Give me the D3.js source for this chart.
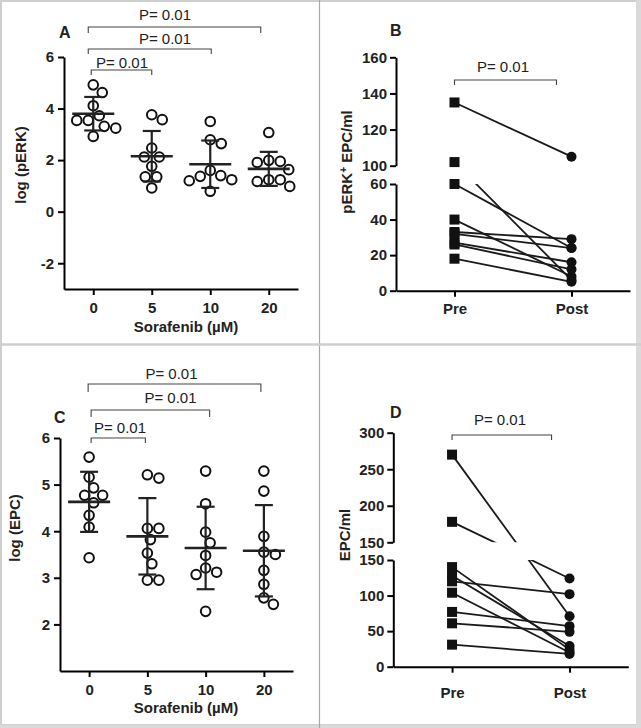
<!DOCTYPE html>
<html><head><meta charset="utf-8">
<script src="https://cdn.jsdelivr.net/npm/d3@7"></script>
<style>body{margin:0;background:#fff}</style>
</head><body>
<script>
// ---------- DATA ----------
const doses = ["0", "5", "10", "20"];
// Panel A: log(pERK)
const pERK_0  = [4.92, 4.62, 4.11, 3.72, 3.54, 3.54, 3.31, 3.24, 2.92];
const pERK_5  = [3.76, 3.57, 2.47, 2.12, 2.12, 1.76, 1.35, 1.35, 0.92];
const pERK_10 = [3.50, 2.79, 2.64, 1.60, 1.40, 1.37, 1.24, 1.20, 0.79];
const pERK_20 = [3.07, 1.99, 1.95, 1.91, 1.63, 1.24, 1.24, 1.17, 0.98];
const pERKMean = [3.80, 2.15, 1.84, 1.66];
const pERKSD   = [0.65, 0.98, 0.92, 0.66];
const pERKTicks = [-2, 0, 2, 4, 6];
// Panel C: log(EPC)
const epc_0  = [5.59, 5.16, 4.93, 4.77, 4.77, 4.61, 4.34, 4.09, 3.43];
const epc_5  = [5.21, 5.14, 4.06, 4.06, 3.82, 3.53, 3.30, 2.95, 2.95];
const epc_10 = [5.29, 4.59, 3.98, 3.75, 3.48, 3.21, 3.12, 3.07, 2.28];
const epc_20 = [5.29, 4.86, 3.89, 3.55, 3.50, 3.16, 2.86, 2.57, 2.43];
const epcMean = [4.63, 3.89, 3.64, 3.58];
const epcSD   = [0.645, 0.82, 0.885, 0.98];
const epcTicks = [2, 3, 4, 5, 6];
// Panel B: pERK+ EPC/ml, paired
const times = ["Pre", "Post"];
const bPre  = [135, 102, 60, 40, 33, 32, 27, 26, 18];
const bPost = [105, 6, 24, 8, 29, 24, 16, 12, 5];
const bLowerTicks = [0, 20, 40, 60];
const bUpperTicks = [100, 120, 140, 160];
// Panel D: EPC/ml, paired
const dPre  = [270, 178, 140, 128, 120, 104, 77, 61, 31];
const dPost = [71, 124, 24, 29, 102, 20, 57, 49, 18];
const dLowerTicks = [0, 50, 100, 150];
const dUpperTicks = [150, 200, 250, 300];
const pText = "P= 0.01";

// ---------- SETUP ----------
const FONT = '"Liberation Sans", Arial, Helvetica, sans-serif';
const TXT = "#222";
const svg = d3.select("body").append("svg").attr("width", 641).attr("height", 728)
  .style("font-family", FONT);

// panel frame
svg.append("rect").attr("x", 1).attr("y", 1).attr("width", 636).attr("height", 724)
  .attr("fill", "none").attr("stroke", "#cfcfcf").attr("stroke-width", 2);
svg.append("rect").attr("x", 636).attr("y", 0).attr("width", 5).attr("height", 728).attr("fill", "#dadada");
svg.append("rect").attr("x", 0).attr("y", 725).attr("width", 641).attr("height", 3).attr("fill", "#dadada");
svg.append("line").attr("x1", 319.5).attr("x2", 319.5).attr("y1", 0).attr("y2", 728)
  .attr("stroke", "#a8a8a8").attr("stroke-width", 1.2);
svg.append("line").attr("x1", 0).attr("x2", 641).attr("y1", 344.5).attr("y2", 344.5)
  .attr("stroke", "#cfcfcf").attr("stroke-width", 2.5);

function styleAxis(sel, fs) {
  sel.select(".domain").attr("stroke", "#000").attr("stroke-width", 2);
  sel.selectAll(".tick line").attr("stroke", "#000").attr("stroke-width", 2);
  sel.selectAll(".tick text").attr("fill", TXT).attr("font-size", fs)
    .attr("font-weight", "bold").attr("font-family", FONT);
}

function addText(x, y, s, opts = {}) {
  const t = svg.append("text").attr("x", x).attr("y", y).text(s)
    .attr("fill", TXT).attr("font-size", opts.fs || 15)
    .attr("font-weight", opts.weight || "bold")
    .attr("text-anchor", opts.anchor || "middle");
  if (opts.rotate) t.attr("transform", `rotate(-90,${x},${y})`);
  return t;
}

function bracket(x1, x2, y, drop, tx, ty) {
  svg.append("path").attr("d", `M${x1},${y + drop}V${y}H${x2}V${y + drop}`)
    .attr("fill", "none").attr("stroke", "#444").attr("stroke-width", 1.1);
  addText(tx, ty, pText, {weight: "normal", fs: 15});
}

// beeswarm offsets computed from values
function swarm(values, y, D) {
  const placed = [];
  return values.map(v => {
    const yy = y(v);
    let dx = 0;
    outer: for (let k = 0; k < 400; k++) {
      const c = k === 0 ? [0] : [k * 0.5, -k * 0.5];
      for (const d of c) {
        if (placed.every(p => (p.dx - d) ** 2 + (p.y - yy) ** 2 >= D * D)) { dx = d; break outer; }
      }
    }
    placed.push({dx, y: yy});
    return dx;
  });
}

// ---------- DOT PLOT PANELS ----------
function dotPanel(cfg) {
  const x = d3.scalePoint().domain(doses).range([cfg.x0, cfg.x1]).padding(0.5);
  const y = d3.scaleLinear().domain(cfg.yDomain).range(cfg.yRange);
  const g = svg.append("g");
  const gx = g.append("g").attr("transform", `translate(0,${cfg.yRange[0]})`)
    .call(d3.axisBottom(x).tickSize(6).tickSizeOuter(0).tickPadding(cfg.xPad));
  styleAxis(gx, 15);
  const gy = g.append("g").attr("transform", `translate(${cfg.x0},0)`)
    .call(d3.axisLeft(y).tickValues(cfg.ticks).tickFormat(d => String(d)).tickSize(6).tickSizeOuter(0).tickPadding(4));
  styleAxis(gy, 15);

  cfg.groups.forEach((vals, i) => {
    const cx = x(doses[i]);
    const offs = swarm(vals, y, 11.5);
    g.append("g").selectAll("circle").data(vals).join("circle")
      .attr("cx", (d, j) => cx + offs[j]).attr("cy", d => y(d)).attr("r", 4.8)
      .attr("fill", "#fff").attr("stroke", "#111").attr("stroke-width", 2);
    const m = cfg.means[i], s = cfg.sds[i];
    g.append("line").attr("x1", cx).attr("x2", cx).attr("y1", y(m + s)).attr("y2", y(m - s))
      .attr("stroke", "#222").attr("stroke-width", 2.2);
    [m + s, m - s].forEach(v => g.append("line").attr("x1", cx - 9).attr("x2", cx + 9)
      .attr("y1", y(v)).attr("y2", y(v)).attr("stroke", "#222").attr("stroke-width", 2.2));
    g.append("line").attr("x1", cx - 21).attr("x2", cx + 21).attr("y1", y(m)).attr("y2", y(m))
      .attr("stroke", "#222").attr("stroke-width", 2.6);
  });

  cfg.brackets.forEach(b => bracket(x(b.a) + b.da, x(b.b) + b.db, b.y, b.drop, b.tx, b.ty));
  addText(cfg.label[1], cfg.label[2], cfg.label[0], {fs: 16, anchor: "start"});
  addText(cfg.ytitle[1], cfg.ytitle[2], cfg.ytitle[0], {rotate: true});
  addText(cfg.xtitle[1], cfg.xtitle[2], cfg.xtitle[0]);
}

dotPanel({
  x0: 64, x1: 298, yDomain: [-3, 6], yRange: [289, 57], ticks: pERKTicks, xPad: 7,
  groups: [pERK_0, pERK_5, pERK_10, pERK_20], means: pERKMean, sds: pERKSD,
  brackets: [
    {a: "0", b: "20", da: -5, db: -8, y: 27, drop: 6, tx: 165, ty: 20},
    {a: "0", b: "10", da: -5, db: 1, y: 49, drop: 5, tx: 165, ty: 44},
    {a: "0", b: "5", da: -2, db: 0, y: 70, drop: 5, tx: 122, ty: 67.5}
  ],
  label: ["A", 59, 38], ytitle: ["log (pERK)", 26, 165], xtitle: ["Sorafenib (µM)", 186, 332]
});

dotPanel({
  x0: 60, x1: 293, yDomain: [1, 6], yRange: [671, 438], ticks: epcTicks, xPad: 7.5,
  groups: [epc_0, epc_5, epc_10, epc_20], means: epcMean, sds: epcSD,
  brackets: [
    {a: "0", b: "20", da: -1, db: -3, y: 384, drop: 8, tx: 171.5, ty: 378.5},
    {a: "0", b: "10", da: 2, db: 4, y: 410, drop: 7, tx: 170.5, ty: 403},
    {a: "0", b: "5", da: 2, db: -2, y: 438, drop: 5, tx: 120, ty: 433}
  ],
  label: ["C", 54, 423], ytitle: ["log (EPC)", 20, 528], xtitle: ["Sorafenib (µM)", 186, 713]
});

// ---------- PAIRED PANELS (broken y axis) ----------
function pairedPanel(cfg) {
  const x = d3.scalePoint().domain(times).range([cfg.x0, cfg.x1]).padding(0.5);
  const lower = d3.scaleLinear().domain(cfg.lowerDomain).range(cfg.lowerRange);
  const upper = d3.scaleLinear().domain(cfg.upperDomain).range(cfg.upperRange);
  const brk = cfg.lowerDomain[1];
  const y = v => v <= brk ? lower(v) : upper(v);
  const g = svg.append("g");
  const gx = g.append("g").attr("transform", `translate(0,${cfg.lowerRange[0]})`)
    .call(d3.axisBottom(x).tickSize(6).tickSizeOuter(0).tickPadding(cfg.xPad));
  styleAxis(gx, 15);
  [[lower, cfg.lowerTicks], [upper, cfg.upperTicks]].forEach(([sc, tv]) => {
    const gy = g.append("g").attr("transform", `translate(${cfg.x0},0)`)
      .call(d3.axisLeft(sc).tickValues(tv).tickSize(6).tickSizeOuter(0).tickPadding(3));
    styleAxis(gy, 15);
  });
  const cid = "clip" + cfg.label[0];
  const cp = svg.append("clipPath").attr("id", cid);
  cp.append("rect").attr("x", cfg.x0).attr("y", 0).attr("width", 300).attr("height", cfg.upperRange[0] - 0);
  cp.append("rect").attr("x", cfg.x0).attr("y", cfg.lowerRange[1]).attr("width", 300)
    .attr("height", cfg.lowerRange[0] - cfg.lowerRange[1] + 20);
  const gl = g.append("g").attr("clip-path", `url(#${cid})`);
  cfg.pre.forEach((v, i) => {
    gl.append("line").attr("x1", x("Pre")).attr("y1", y(v))
      .attr("x2", x("Post")).attr("y2", y(cfg.post[i]))
      .attr("stroke", "#1a1a1a").attr("stroke-width", 1.8);
  });
  g.append("g").selectAll("rect").data(cfg.pre).join("rect")
    .attr("x", x("Pre") - 5).attr("y", d => y(d) - 5).attr("width", 10).attr("height", 10)
    .attr("fill", "#111");
  g.append("g").selectAll("circle").data(cfg.post).join("circle")
    .attr("cx", x("Post")).attr("cy", d => y(d)).attr("r", 5).attr("fill", "#111");

  const b = cfg.bracket;
  bracket(x("Pre") + b.da, x("Post") + b.db, b.y, b.drop, b.tx, b.ty);
  addText(cfg.label[1], cfg.label[2], cfg.label[0], {fs: 16, anchor: "start"});
  const yt = addText(cfg.ytitle[1], cfg.ytitle[2], "", {rotate: true});
  cfg.ytitle[0].forEach(p => {
    const ts = yt.append("tspan").text(p.t);
    if (p.sup) ts.attr("baseline-shift", "super").attr("font-size", 10);
  });
}

pairedPanel({
  x0: 396, x1: 630, lowerDomain: [0, 60], lowerRange: [290.7, 184],
  upperDomain: [100, 160], upperRange: [165.7, 57.3],
  lowerTicks: bLowerTicks, upperTicks: bUpperTicks, pre: bPre, post: bPost, xPad: 7,
  bracket: {da: 0, db: -15, y: 80, drop: 5, tx: 503, ty: 72},
  label: ["B", 390, 36],
  ytitle: [[{t: "pERK"}, {t: "+", sup: true}, {t: " EPC/ml"}], 352, 162]
});

pairedPanel({
  x0: 393.3, x1: 628.3, lowerDomain: [0, 150], lowerRange: [666.7, 560],
  upperDomain: [150, 300], upperRange: [542.3, 432.7],
  lowerTicks: dLowerTicks, upperTicks: dUpperTicks, pre: dPre, post: dPost, xPad: 14.5,
  bracket: {da: 0, db: -18, y: 435, drop: 5, tx: 500, ty: 425},
  label: ["D", 390, 418],
  ytitle: [[{t: "EPC/ml"}], 350, 535]
});
</script>
</body></html>
